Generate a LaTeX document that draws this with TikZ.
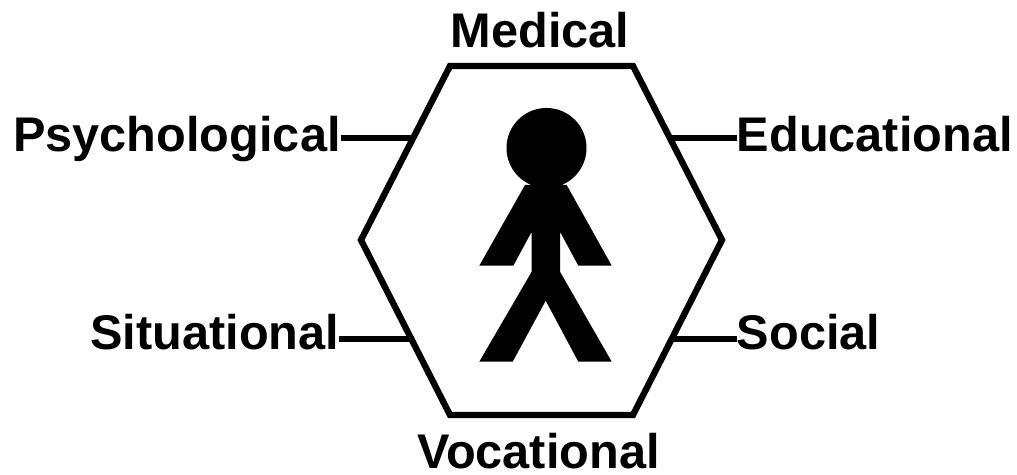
\documentclass[tikz,border=0pt]{standalone}
\usepackage{fontspec}
\setmainfont{Liberation Sans}
\tikzset{
    areaLabel/.style={font=\fontsize{27.7}{30}\selectfont\bfseries, inner sep=0pt},
    hexLine/.style={line width=3.6pt, miter limit=10},
    areaLine/.style={line width=3.4pt}
}
\begin{document}
\begin{tikzpicture}[x=0.02cm, y=-0.02cm]
    \definecolor{borderColour}{HTML}{000000}

    \useasboundingbox (0,0) rectangle (1017,475);

    % Hexagon
    \coordinate (H1) at (450,66);
    \coordinate (H2) at (633,66);
    \coordinate (H3) at (722,240);
    \coordinate (H4) at (633,415);
    \coordinate (H5) at (450,415);
    \coordinate (H6) at (361,240);

    \draw[hexLine, draw=borderColour] (H1) -- (H2) -- (H3) -- (H4) -- (H5) -- (H6) -- cycle;

    % Person
    \fill[borderColour] (546.5,148) circle (40);
    \fill[borderColour] (525,185) -- (479.3,265.7) -- (513.3,265.7) -- (531.7,231.7)
        -- (531.7,271.7) -- (479.3,361.7) -- (512.7,361.7) -- (545.7,300.7)
        -- (578.3,361.7) -- (611.7,361.7) -- (560,271.7) -- (560,231.7)
        -- (578.3,265.7) -- (611.7,265.7) -- (566.7,185) -- cycle;

    % Labels
    \node[areaLabel, anchor=base] (medical) at (540,47.5) {Medical};
    \node[areaLabel, anchor=base west] (psychological) at (13,152) {Psychological};
    \node[areaLabel, anchor=base west] (educational) at (736.5,152) {Educational};
    \node[areaLabel, anchor=base west] (situational) at (90,350) {Situational};
    \node[areaLabel, anchor=base west] (social) at (736.5,350) {Social};
    \node[areaLabel, anchor=base] (vocational) at (538.5,468.5) {Vocational};

    % Ends of the connectors on the hexagon
    \coordinate (psychologicalEnd) at (413,138);
    \coordinate (educationalEnd) at (672,138);
    \coordinate (situationalEnd) at (411,339);
    \coordinate (socialEnd) at (672,339);

    \draw[areaLine] (psychological.east |- psychologicalEnd) -- (psychologicalEnd);
    \draw[areaLine] (educational.west |- educationalEnd) -- (educationalEnd);
    \draw[areaLine] (situational.east |- situationalEnd) -- (situationalEnd);
    \draw[areaLine] (social.west |- socialEnd) -- (socialEnd);

\end{tikzpicture}
\end{document}
